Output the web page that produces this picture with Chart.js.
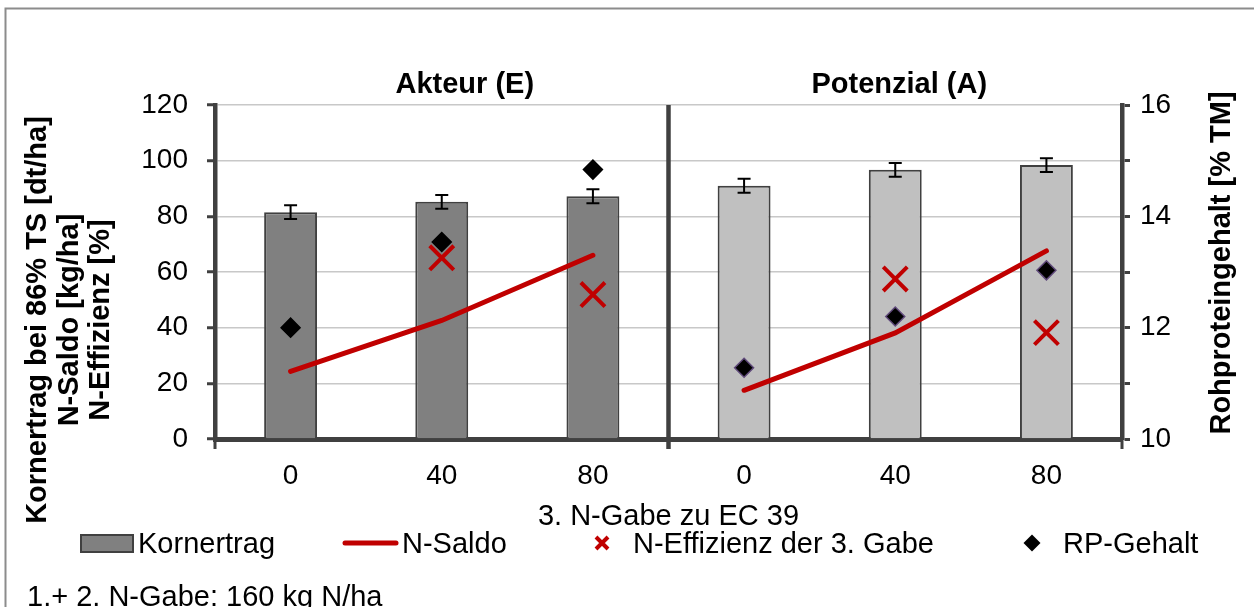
<!DOCTYPE html>
<html>
<head>
<meta charset="utf-8">
<script src="https://cdn.jsdelivr.net/npm/chart.js@4"></script>
<style>
  html, body { margin: 0; padding: 0; background: #fff; overflow: hidden; }
  #wrap { position: relative; width: 1254px; height: 607px; }
</style>
</head>
<body>
<div id="wrap"><canvas id="chart"></canvas></div>
<script>
const categories = ["0", "40", "80", "0", "40", "80"];
const groups = ["Akteur (E)", "Potenzial (A)"];
const kornertrag = [81.5, 85.2, 87.2, 91.0, 96.7, 98.4];
const kornertragErr = [2.5, 2.5, 2.5, 2.5, 2.5, 2.5];
const nSaldo = [24.3, 42.6, 66.0, 17.5, 38.1, 67.6];
const nEffizienz = [null, 65.1, 51.9, null, 57.5, 38.2];
const rpGehalt = [12.0, 13.54, 14.84, 11.28, 12.2, 13.03];

const FONT = "'Liberation Sans', Arial, sans-serif";
const RED = "#c00000";
const DARK = "#404040";

Chart.defaults.font.family = FONT;
Chart.defaults.color = "#000";

// error bars, divider, group labels, axis titles, legend and note
const extras = {
    id: "extras",
    afterDatasetsDraw(chart) {
        const ctx = chart.ctx;
        const y = chart.scales.y;
        const meta = chart.getDatasetMeta(0);
        ctx.save();
        ctx.strokeStyle = "#000";
        ctx.lineWidth = 2;
        meta.data.forEach((bar, i) => {
            const top = y.getPixelForValue(kornertrag[i] + kornertragErr[i]);
            const bot = y.getPixelForValue(kornertrag[i] - kornertragErr[i]);
            ctx.beginPath();
            ctx.moveTo(bar.x, top); ctx.lineTo(bar.x, bot);
            ctx.moveTo(bar.x - 6.5, top); ctx.lineTo(bar.x + 6.5, top);
            ctx.moveTo(bar.x - 6.5, bot); ctx.lineTo(bar.x + 6.5, bot);
            ctx.stroke();
        });
        ctx.restore();
    },
    afterDraw(chart) {
        const ctx = chart.ctx;
        const area = chart.chartArea;
        const x = chart.scales.x;
        const mid = (x.getPixelForValue(2) + x.getPixelForValue(3)) / 2;
        ctx.save();

        // outer frame
        ctx.strokeStyle = "#8c8c8c";
        ctx.lineWidth = 2;
        ctx.beginPath();
        ctx.moveTo(5.5, 607); ctx.lineTo(5.5, 8.5); ctx.lineTo(1254, 8.5);
        ctx.stroke();

        // divider and group ticks
        ctx.strokeStyle = DARK;
        ctx.lineWidth = 4.5;
        ctx.beginPath();
        ctx.moveTo(mid, area.top); ctx.lineTo(mid, area.bottom + 10);
        ctx.stroke();
        ctx.lineWidth = 3;
        ctx.beginPath();
        [area.left, area.right].forEach(px => { ctx.moveTo(px, area.bottom); ctx.lineTo(px, area.bottom + 10); });
        ctx.stroke();

        ctx.fillStyle = "#000";
        ctx.font = "bold 29px " + FONT;
        ctx.textAlign = "center";
        ctx.textBaseline = "alphabetic";
        ctx.fillText(groups[0], x.getPixelForValue(1) + 23, 93);
        ctx.fillText(groups[1], x.getPixelForValue(4) + 4, 93);

        // axis titles
        ctx.textBaseline = "middle";
        const leftTitle = ["Kornertrag bei 86% TS [dt/ha]", "N-Saldo [kg/ha]", "N-Effizienz [%]"];
        leftTitle.forEach((t, i) => {
            ctx.save();
            ctx.translate(38 + i * 31.5, 320);
            ctx.rotate(-Math.PI / 2);
            ctx.fillText(t, 0, 0);
            ctx.restore();
        });
        ctx.save();
        ctx.translate(1222, 263);
        ctx.rotate(-Math.PI / 2);
        ctx.fillText("Rohproteingehalt [% TM]", 0, 0);
        ctx.restore();

        // legend
        const ly = 543;
        ctx.font = "29px " + FONT;
        ctx.textAlign = "left";
        ctx.textBaseline = "alphabetic";
        ctx.fillStyle = "#808080";
        ctx.fillRect(81, 535, 52, 17);
        ctx.strokeStyle = DARK;
        ctx.lineWidth = 2;
        ctx.strokeRect(81, 535, 52, 17);
        ctx.fillStyle = "#000";
        ctx.fillText("Kornertrag", 138, 553);

        ctx.strokeStyle = RED;
        ctx.lineWidth = 5;
        ctx.lineCap = "round";
        ctx.beginPath(); ctx.moveTo(345, ly); ctx.lineTo(396, ly); ctx.stroke();
        ctx.fillText("N-Saldo", 402, 553);

        ctx.lineWidth = 4;
        ctx.lineCap = "butt";
        ctx.beginPath();
        ctx.moveTo(596, ly - 6); ctx.lineTo(608, ly + 6);
        ctx.moveTo(608, ly - 6); ctx.lineTo(596, ly + 6);
        ctx.stroke();
        ctx.fillText("N-Effizienz der 3. Gabe", 633, 553);

        ctx.fillStyle = "#000";
        ctx.beginPath();
        ctx.moveTo(1032, ly - 8.5); ctx.lineTo(1040.5, ly); ctx.lineTo(1032, ly + 8.5); ctx.lineTo(1023.5, ly);
        ctx.closePath(); ctx.fill();
        ctx.fillText("RP-Gehalt", 1063, 553);

        ctx.fillText("1.+ 2. N-Gabe: 160 kg N/ha", 27, 606);
        ctx.restore();
    }
};

const data = {
    labels: categories,
    datasets: [
        {
            type: "bar",
            label: "Kornertrag",
            data: kornertrag,
            backgroundColor: ["#808080", "#808080", "#808080", "#c0c0c0", "#c0c0c0", "#c0c0c0"],
            borderColor: DARK,
            borderWidth: 2,
            barPercentage: 0.35,
            categoryPercentage: 1,
            yAxisID: "y",
            order: 4,
        },
        {
            type: "line",
            label: "N-Saldo",
            data: nSaldo,
            borderColor: RED,
            borderWidth: 5,
            borderCapStyle: "round",
            pointRadius: 0,
            tension: 0,
            segment: {
                borderColor: c => (c.p0DataIndex === 2 ? "transparent" : undefined),
            },
            yAxisID: "y",
            order: 3,
        },
        {
            type: "line",
            label: "N-Effizienz der 3. Gabe",
            data: nEffizienz,
            showLine: false,
            pointStyle: "crossRot",
            pointRadius: 17,
            pointBorderWidth: 4,
            pointBorderColor: RED,
            yAxisID: "y",
            order: 2,
        },
        {
            type: "line",
            label: "RP-Gehalt",
            data: rpGehalt,
            showLine: false,
            pointStyle: "rectRot",
            pointRadius: 9.5,
            pointBackgroundColor: "#000",
            pointBorderColor: ["#000", "#000", "#000", "#604a7b", "#604a7b", "#604a7b"],
            pointBorderWidth: 1.5,
            yAxisID: "y1",
            order: 1,
        },
    ],
};

const config = {
    type: "bar",
    data: data,
    options: {
        responsive: true,
        maintainAspectRatio: false,
        animation: false,
        events: [],
        layout: {
            padding: { left: 115, right: 32, top: 105, bottom: 73 },
        },
        plugins: {
            legend: { display: false },
            tooltip: { enabled: false },
        },
        scales: {
            x: {
                offset: true,
                grid: { display: false, drawTicks: false },
                border: { display: true, color: DARK, width: 5 },
                ticks: { font: { size: 28 }, padding: 20, color: "#000" },
                title: {
                    display: true,
                    text: "3. N-Gabe zu EC 39",
                    font: { size: 29 },
                    padding: { top: 0, bottom: 0 },
                    color: "#000",
                },
                afterFit(scale) { scale.height = 95; },
            },
            y: {
                position: "left",
                min: 0,
                max: 120,
                ticks: { stepSize: 20, font: { size: 28 }, padding: 19, color: "#000" },
                grid: { color: "#c8c8c8", lineWidth: 1.5, tickColor: DARK, tickWidth: 3, tickLength: 8 },
                border: { color: DARK, width: 4.5 },
                afterFit(scale) { scale.width = 100; },
            },
            y1: {
                position: "right",
                min: 10,
                max: 16,
                ticks: {
                    stepSize: 1,
                    font: { size: 28 },
                    padding: 10,
                    color: "#000",
                    callback: v => (v % 2 === 0 ? v : ""),
                },
                grid: { drawOnChartArea: false, tickColor: DARK, tickWidth: 3, tickLength: 8 },
                border: { color: DARK, width: 4.5 },
                afterFit(scale) { scale.width = 100; },
            },
        },
    },
    plugins: [extras],
};

const comboChart = new Chart(document.getElementById("chart"), config);
</script>
</body>
</html>
